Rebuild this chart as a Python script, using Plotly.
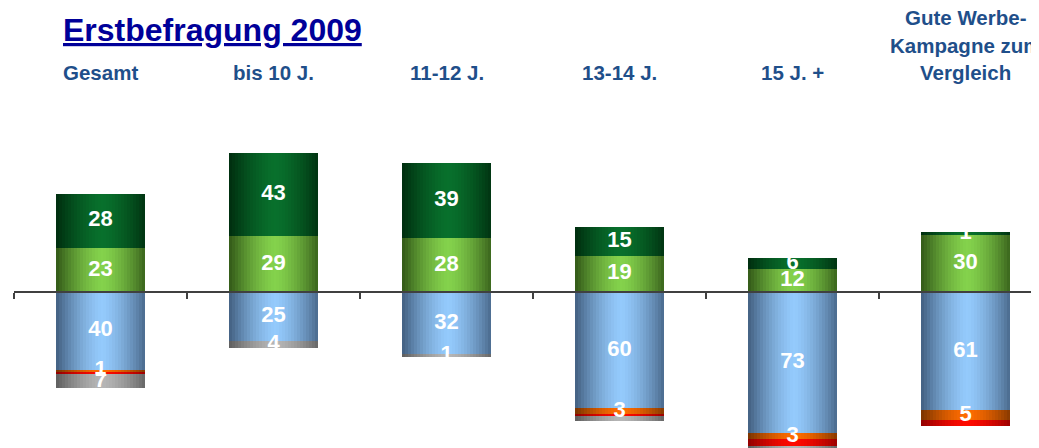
import plotly.graph_objects as go

# Kategorien und Kopfzeilen
categories = ["Gesamt", "bis 10 J.", "11-12 J.", "13-14 J.", "15 J. +", "Gute Werbe-Kampagne zum Vergleich"]
header_labels = ["Gesamt", "bis 10 J.", "11-12 J.", "13-14 J.", "15 J. +", "Gute Werbe-<br>Kampagne zum<br>Vergleich"]

# Werte (positiv nach oben, negativ nach unten)
dark_green = [28, 43, 39, 15, 6, 1]
light_green = [23, 29, 28, 19, 12, 30]
blue = [40, 25, 32, 60, 73, 61]
orange = [1.4, 0, 0, 3.2, 3.2, 5.3]
red = [0.9, 0, 0, 1.0, 3.5, 2.7]
gray = [7.3, 3.7, 1.4, 2.7, 3.0, 0]

# Beschriftungen (leer = im Original nicht sichtbar)
dark_green_text = ["28", "43", "39", "15", "6", "1"]
light_green_text = ["23", "29", "28", "19", "12", "30"]
blue_text = ["40", "25", "32", "60", "73", "61"]
orange_text = ["1", "", "", "3", "3", "5"]
red_text = ["", "", "", "", "", ""]
gray_text = ["7", "4", "1", "", "", ""]

# (Randfarbe, Mittenfarbe) für den horizontalen Verlauf
COLORS = {
    "dark_green": ((0, 48, 16), (8, 112, 44)),
    "light_green": ((54, 94, 26), (132, 210, 76)),
    "blue": ((70, 100, 134), (148, 202, 252)),
    "orange": ((128, 54, 0), (255, 108, 0)),
    "red": ((150, 0, 0), (255, 10, 0)),
    "gray": ((98, 98, 98), (182, 182, 182)),
}

FONT = "Liberation Sans, Arial, sans-serif"
BAR_W = 0.51
N_STRIPS = 30
Y_RANGE = [-84.8, 99.6]


def lerp(c1, c2, t):
    return "rgb(%d,%d,%d)" % tuple(round(a + (b - a) * t) for a, b in zip(c1, c2))


def add_segment(fig, values, bases, color_key, direction):
    edge, mid = COLORS[color_key]
    y = [direction * v for v in values]
    step = BAR_W / N_STRIPS
    for i in range(N_STRIPS):
        pos = (i + 0.5) / N_STRIPS
        t = min(1.0, abs(pos - 0.52) * 2)
        color = lerp(mid, edge, t ** 1.5)
        w = step * 1.6 if i < N_STRIPS - 1 else step
        fig.add_trace(go.Bar(
            x=categories, y=y, base=bases,
            width=w, offset=-BAR_W / 2 + i * step,
            marker=dict(color=color, line=dict(width=0)),
            showlegend=False, hoverinfo="skip"
        ))


def add_labels(fig, values, bases, texts, direction):
    mids = [b + direction * v / 2 for b, v in zip(bases, values)]
    fig.add_trace(go.Scatter(
        x=categories, y=mids, text=texts, mode="text",
        textfont=dict(color="white", size=22, family=FONT, weight="bold"),
        showlegend=False, hoverinfo="skip", cliponaxis=True
    ))


fig = go.Figure()

# Stapel nach oben
pos_stack = [("light_green", light_green, light_green_text),
             ("dark_green", dark_green, dark_green_text)]
# Stapel nach unten
neg_stack = [("blue", blue, blue_text),
             ("orange", orange, orange_text),
             ("red", red, red_text),
             ("gray", gray, gray_text)]

label_jobs = []
base = [0] * len(categories)
for key, vals, txt in pos_stack:
    add_segment(fig, vals, base, key, 1)
    label_jobs.append((vals, list(base), txt, 1))
    base = [b + v for b, v in zip(base, vals)]

base = [0] * len(categories)
for key, vals, txt in neg_stack:
    add_segment(fig, vals, base, key, -1)
    label_jobs.append((vals, list(base), txt, -1))
    base = [b - v for b, v in zip(base, vals)]

for vals, b, txt, d in label_jobs:
    add_labels(fig, vals, b, txt, d)

zero_pos = (0 - Y_RANGE[0]) / (Y_RANGE[1] - Y_RANGE[0])

fig.update_layout(
    width=1039, height=448,
    margin=dict(l=6, r=0, t=92, b=0),
    paper_bgcolor="white", plot_bgcolor="white",
    barmode="overlay", bargap=0,
    font=dict(family=FONT),
    xaxis=dict(
        type="category", range=[-0.5, 5.471],
        anchor="free", position=zero_pos,
        showline=True, linecolor="#404040", linewidth=1.5,
        ticks="outside", tickson="boundaries", ticklen=6,
        tickcolor="#404040", tickwidth=1.5,
        showticklabels=False, showgrid=False, zeroline=False
    ),
    yaxis=dict(range=Y_RANGE, visible=False, showgrid=False, zeroline=False),
)

# Kopfzeilen über den Säulen
for cat, label in zip(categories, header_labels):
    lines = label.split("<br>")
    for j, line in enumerate(reversed(lines)):
        fig.add_annotation(
            x=cat, xref="x", y=1.0, yref="paper",
            yanchor="bottom", yshift=14 + j * 27.5,
            text="<b>%s</b>" % line, showarrow=False,
            font=dict(size=20.5, color="#1F4F8A", family=FONT)
        )

# Titel
fig.add_annotation(
    x=0.0455, xref="paper", y=1.0, yref="paper",
    xanchor="left", yanchor="bottom", yshift=50,
    text="<b><u>Erstbefragung 2009</u></b>", showarrow=False,
    font=dict(size=32, color="#000099", family=FONT)
)

fig.write_html("out.html")
